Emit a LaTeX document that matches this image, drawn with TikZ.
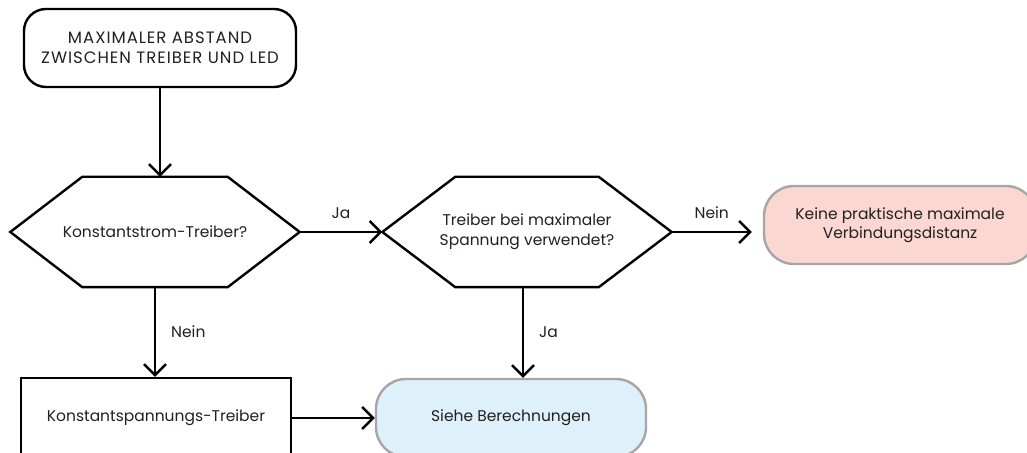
\documentclass[tikz,border=0pt]{standalone}
\usepackage{fontspec}
\setmainfont{Poppins}
\newfontfamily\capsfont{Poppins}[LetterSpace=6]
\usepackage{xcolor}
\usetikzlibrary{arrows.meta,positioning}
\definecolor{boxgray}{RGB}{166,166,166}
\definecolor{boxpink}{RGB}{250,215,208}
\definecolor{boxblue}{RGB}{222,240,250}
\definecolor{txtgray}{RGB}{35,31,32}
\tikzset{
  basebox/.style={align=center,inner sep=0pt,text=txtgray,font=\fontsize{15.5}{20}\selectfont},
  startbox/.style={basebox,draw=black,line width=2.4pt,rounded corners=22pt,minimum width=272pt,minimum height=78pt,
    font=\capsfont\fontsize{16.5}{20}\selectfont},
  hexbox/.style={basebox,minimum width=289pt,minimum height=110pt},
  hexline/.style={line width=2.4pt,line join=miter},
  plainbox/.style={basebox,draw=black,line width=2.4pt,minimum width=270pt,minimum height=80pt},
  endbox/.style={basebox,draw=boxgray,line width=2.4pt,rounded corners=30pt,minimum width=272pt,minimum height=78pt},
  flow/.style={line width=2.4pt,-{Straight Barb[length=11pt,width=22pt]}},
  lbl/.style={inner sep=0pt,text=txtgray,font=\fontsize{15.5}{18}\selectfont}
}

\begin{document}
\begin{tikzpicture}[x=1pt,y=1pt]
  \useasboundingbox (0,0) rectangle (1027,452);
  % Knoten
  \node[startbox] (start) at (160,404) {MAXIMALER ABSTAND\\ZWISCHEN TREIBER UND LED};
  \node[hexbox] (q1) at (155,220) {Konstantstrom-Treiber?};
  \node[hexbox] (q2) at (527,220) {Treiber bei maximaler\\Spannung verwendet?};
  \node[endbox,fill=boxpink,font=\fontsize{15.5}{18.5}\selectfont] (kb) at (900,227) {Keine praktische maximale\\Verbindungsdistanz};
  \node[plainbox] (rb) at (156,34) {Konstantspannungs-Treiber};
  \node[endbox,fill=boxblue,minimum width=270pt] (sb) at (511,34) {Siehe Berechnungen};
  % Sechsecke
  \draw[hexline] (q1.west) -- ([xshift=72pt]q1.north west) -- ([xshift=-72pt]q1.north east)
    -- (q1.east) -- ([xshift=-72pt]q1.south east) -- ([xshift=72pt]q1.south west) -- cycle;
  \draw[hexline] (q2.west) -- ([xshift=73pt]q2.north west) -- ([xshift=-73pt]q2.north east)
    -- (q2.east) -- ([xshift=-73pt]q2.south east) -- ([xshift=73pt]q2.south west) -- cycle;
  % Pfeile
  \draw[flow] (start.south) -- (start.south |- q1.north);
  \draw[flow] (q1.east) -- node[lbl,midway,above=12pt] {Ja} (q2.west);
  \draw[flow] (q2.east) -- node[lbl,midway,above=12pt] {Nein} ([xshift=-11pt]kb.west |- q2.east);
  \draw[flow] (q1.south) -- node[lbl,midway,right=15pt] {Nein} (q1.south |- rb.north);
  \draw[flow] ([xshift=-4pt]q2.south) -- node[lbl,midway,right=15pt] {Ja} ([xshift=-4pt]q2.south |- sb.north);
  \draw[flow] (rb.east) -- (sb.west);
\end{tikzpicture}
\end{document}
